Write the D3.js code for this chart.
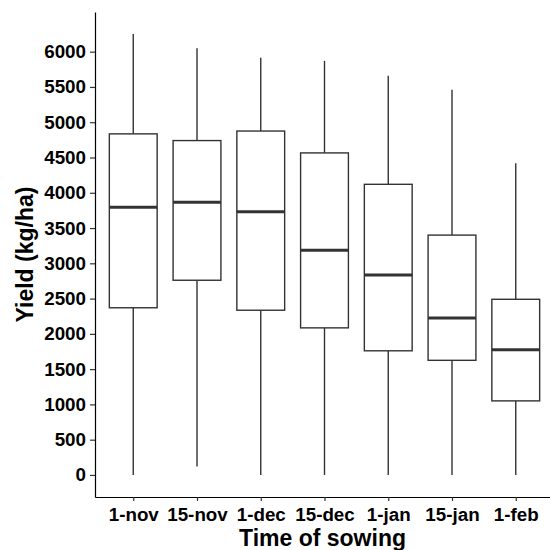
<!DOCTYPE html>
<meta charset="utf-8">
<script src="https://d3js.org/d3.v7.min.js"></script>
<style>
  body { margin: 0; background: #fff; }
  text { font-family: "Liberation Sans", Arial, sans-serif; font-weight: bold; }
</style>
<div id="chart"></div>
<script>
// sowing dates and yield summary (kg/ha)
const sowing = ["1-nov", "15-nov", "1-dec", "15-dec", "1-jan", "15-jan", "1-feb"];
const whiskerLow  = [0, 120, 0, 0, 0, 0, 0];
const q1          = [2370, 2760, 2335, 2085, 1760, 1625, 1050];
const median      = [3795, 3865, 3730, 3185, 2835, 2225, 1775];
const q3          = [4835, 4740, 4875, 4565, 4120, 3400, 2490];
const whiskerHigh = [6250, 6050, 5915, 5870, 5660, 5460, 4420];
const yTicks = d3.range(0, 6001, 500);

const width = 550, height = 550;
const panelL = 95, panelR = 554, panelT = 12, panelB = 497;

const svg = d3.select("#chart").append("svg")
    .attr("width", width)
    .attr("height", height);

const x = d3.scalePoint()
    .domain(sowing)
    .range([panelL, panelR])
    .padding(0.6);

// ggplot style 5% expansion around the data range
const yMin = d3.min(whiskerLow), yMax = d3.max(whiskerHigh);
const pad = (yMax - yMin) * 0.05;
const y = d3.scaleLinear()
    .domain([yMin - pad, yMax + pad])
    .range([panelB, panelT]);

const boxW = x.step() * 0.75;
const grey = "#333333";

const g = svg.selectAll("g.box")
    .data(sowing)
    .enter()
    .append("g")
    .attr("class", "box");

// whiskers
g.append("line")
    .attr("x1", d => x(d)).attr("x2", d => x(d))
    .attr("y1", (d, i) => y(whiskerHigh[i]))
    .attr("y2", (d, i) => y(q3[i]))
    .attr("stroke", grey).attr("stroke-width", 1.4);
g.append("line")
    .attr("x1", d => x(d)).attr("x2", d => x(d))
    .attr("y1", (d, i) => y(q1[i]))
    .attr("y2", (d, i) => y(whiskerLow[i]))
    .attr("stroke", grey).attr("stroke-width", 1.4);

// boxes
g.append("rect")
    .attr("x", d => x(d) - boxW / 2)
    .attr("y", (d, i) => y(q3[i]))
    .attr("width", boxW)
    .attr("height", (d, i) => y(q1[i]) - y(q3[i]))
    .attr("fill", "#fff")
    .attr("stroke", grey)
    .attr("stroke-width", 1.4);

// medians
g.append("line")
    .attr("x1", d => x(d) - boxW / 2)
    .attr("x2", d => x(d) + boxW / 2)
    .attr("y1", (d, i) => y(median[i]))
    .attr("y2", (d, i) => y(median[i]))
    .attr("stroke", grey).attr("stroke-width", 3);

// axes
const yAxis = svg.append("g")
    .attr("transform", `translate(${panelL},0)`)
    .call(d3.axisLeft(y).tickValues(yTicks).tickFormat(d3.format("d"))
        .tickSize(5).tickSizeOuter(0).tickPadding(4));
const xAxis = svg.append("g")
    .attr("transform", `translate(0,${panelB})`)
    .call(d3.axisBottom(x).tickSize(4).tickSizeOuter(0).tickPadding(7));

[yAxis, xAxis].forEach(a => {
    a.select(".domain").attr("stroke", "#000").attr("stroke-width", 1.2);
    a.selectAll(".tick line").attr("stroke", grey).attr("stroke-width", 1.2);
    a.selectAll(".tick text")
        .attr("fill", "#000")
        .style("font-size", "18.8px")
        .style("font-family", "'Liberation Sans', Arial, sans-serif")
        .style("font-weight", "bold");
});

svg.append("text")
    .attr("text-anchor", "middle")
    .attr("x", (panelL + panelR) / 2 - 2)
    .attr("y", 546)
    .style("font-size", "23px")
    .text("Time of sowing");

svg.append("text")
    .attr("text-anchor", "middle")
    .attr("transform", `translate(33,${(panelT + panelB) / 2}) rotate(-90)`)
    .style("font-size", "23px")
    .text("Yield (kg/ha)");
</script>
